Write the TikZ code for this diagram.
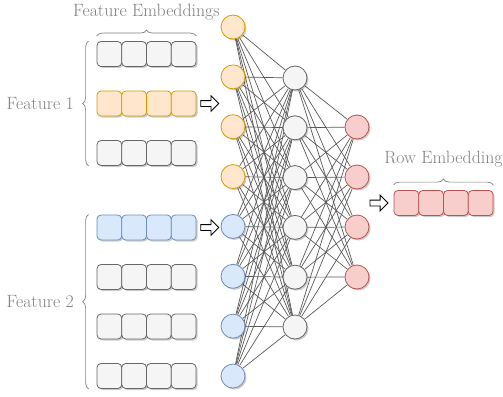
\documentclass[tikz,border=0pt]{standalone}
\usetikzlibrary{positioning,shapes.arrows,shadows,decorations.pathreplacing,backgrounds}

\definecolor{orangefill}{HTML}{FFE6CC}
\definecolor{orangeline}{HTML}{D79B00}
\definecolor{bluefill}{HTML}{DAE8FC}
\definecolor{blueline}{HTML}{6C8EBF}
\definecolor{redfill}{HTML}{F8CECC}
\definecolor{redline}{HTML}{B85450}
\definecolor{greyfill}{HTML}{F5F5F5}
\definecolor{greyline}{HTML}{666666}
\definecolor{labelgrey}{HTML}{808080}

\tikzstyle{softshadow}=[drop shadow={shadow xshift=1.5pt,shadow yshift=-1.5pt,opacity=0.2,fill=black}]
\tikzstyle{neuron}=[circle,draw,line width=0.8pt,minimum size=24pt,inner sep=0pt,softshadow]
\tikzstyle{cell}=[rectangle,draw,rounded corners=4pt,line width=0.8pt,minimum width=24.75pt,minimum height=25pt,inner sep=0pt,softshadow]
\tikzstyle{orangebox}=[fill=orangefill,draw=orangeline]
\tikzstyle{bluebox}=[fill=bluefill,draw=blueline]
\tikzstyle{redbox}=[fill=redfill,draw=redline]
\tikzstyle{greybox}=[fill=greyfill,draw=greyline]
\tikzstyle{edge}=[draw=black!65,line width=0.7pt]
\tikzstyle{brace}=[decorate,decoration={brace,amplitude=6pt},draw=labelgrey,line width=0.7pt]
\tikzstyle{greytext}=[text=labelgrey,font=\fontsize{17.8}{21}\selectfont]
\tikzstyle{bigarrow}=[single arrow,draw,fill=white,line width=0.8pt,minimum height=18pt,inner sep=2.5pt,single arrow head extend=5pt]

% one embedding: name, colour, left x, centre y
\newcommand{\embrow}[4]{
	\foreach \c in {1,...,4}{
		\node[cell,#2] (#1\c) at ({#3+24.75*\c-12.375},#4) {};
	}
}
\newcommand{\connectlayers}[4]{
	\foreach \a in {1,...,#2}{
		\foreach \b in {1,...,#4}{
			\draw[edge] (#1\a) -- (#3\b);
		}
	}
}

\begin{document}
\begin{tikzpicture}[x=1pt,y=-1pt]
\useasboundingbox (0,0) rectangle (503,396);

% embeddings
\embrow{fa}{greybox}{97}{54}
\embrow{fb}{orangebox}{97}{103.5}
\embrow{fc}{greybox}{97}{153}
\embrow{ga}{bluebox}{97}{227.5}
\embrow{gb}{greybox}{97}{277}
\embrow{gc}{greybox}{97}{326.5}
\embrow{gd}{greybox}{97}{376}
\embrow{r}{redbox}{394}{203}

% network
\foreach \i in {1,...,4}
	\node[neuron,orangebox] (i\i) at (233,{27+49.86*(\i-1)}) {};
\foreach \i in {5,...,8}
	\node[neuron,bluebox] (i\i) at (233,{27+49.86*(\i-1)}) {};
\foreach \j in {1,...,6}
	\node[neuron,greybox] (h\j) at (295,{78+49.8*(\j-1)}) {};
\foreach \k in {1,...,4}
	\node[neuron,redbox] (o\k) at (357,{127+50*(\k-1)}) {};

\begin{scope}[on background layer]
\connectlayers{i}{8}{h}{6}
\connectlayers{h}{6}{o}{4}
\end{scope}

\node[bigarrow,right=4pt of fb4] (a1) {};
\node[bigarrow,right=4pt of ga4] (a2) {};
\node[bigarrow,left=5pt of r1] (a3) {};

% braces
\draw[brace] ([yshift=5pt]fa1.north west) -- ([yshift=5pt]fa4.north east)
	node[midway,above=12pt,greytext] {Feature Embeddings};
\draw[brace] ([xshift=-8pt]fc1.south west) -- ([xshift=-8pt]fa1.north west)
	node[midway,left=11pt,greytext] {Feature 1};
\draw[brace] ([xshift=-8pt]gd1.south west) -- ([xshift=-8pt]ga1.north west)
	node[midway,left=11pt,greytext] {Feature 2};
\draw[brace] ([yshift=5pt]r1.north west) -- ([yshift=5pt]r4.north east)
	node[midway,above=14pt,greytext] {Row Embedding};

\end{tikzpicture}
\end{document}
